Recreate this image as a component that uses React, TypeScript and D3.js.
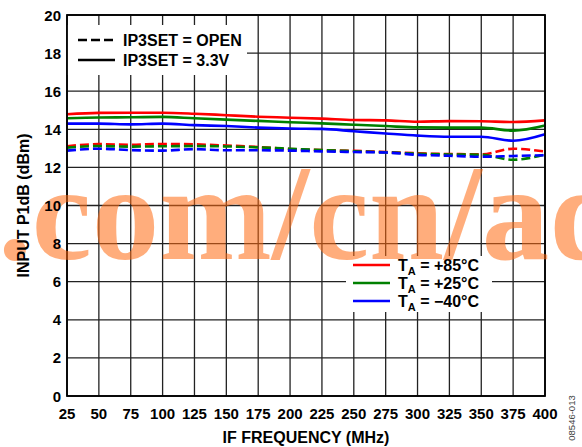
import React from 'react';
import * as d3 from 'd3';

const freqs = [25, 50, 75, 100, 125, 150, 175, 200, 225, 250, 275, 300, 325, 350, 375, 400];

const solid85 = [14.79, 14.86, 14.87, 14.87, 14.82, 14.74, 14.66, 14.61, 14.56, 14.49, 14.47, 14.40, 14.43, 14.42, 14.38, 14.47];
const solid25 = [14.58, 14.62, 14.63, 14.65, 14.58, 14.51, 14.44, 14.37, 14.31, 14.24, 14.17, 14.10, 14.09, 14.09, 13.93, 14.20];
const solidM40 = [14.30, 14.30, 14.26, 14.30, 14.22, 14.17, 14.09, 14.04, 14.02, 13.90, 13.78, 13.67, 13.61, 13.61, 13.40, 13.74];

const open85 = [13.11, 13.22, 13.19, 13.23, 13.21, 13.15, 13.07, 12.96, 12.91, 12.87, 12.81, 12.74, 12.70, 12.69, 12.98, 12.83];
const open25 = [13.04, 13.12, 13.09, 13.11, 13.12, 13.10, 13.05, 12.98, 12.91, 12.85, 12.79, 12.72, 12.68, 12.66, 12.40, 12.68];
const openM40 = [12.88, 12.98, 12.91, 12.88, 12.96, 12.90, 12.90, 12.88, 12.84, 12.81, 12.78, 12.66, 12.61, 12.56, 12.60, 12.64];

const xTicks = d3.range(25, 401, 25);
const yTicks = d3.range(0, 21, 2);

const tempLabels = ['+85°C', '+25°C', '\u221240°C'];
const tempColors = ['#ff0000', '#008000', '#0000ff'];
const modeLabels = ['IP3SET = OPEN', 'IP3SET = 3.3V'];

const series = [
  { values: open85, color: tempColors[0], dashed: true },
  { values: open25, color: tempColors[1], dashed: true },
  { values: openM40, color: tempColors[2], dashed: true },
  { values: solid85, color: tempColors[0], dashed: false },
  { values: solid25, color: tempColors[1], dashed: false },
  { values: solidM40, color: tempColors[2], dashed: false },
];

export default function App() {
  const W = 582;
  const H = 447;
  const x = d3.scaleLinear().domain([25, 400]).range([67, 545]);
  const y = d3.scaleLinear().domain([0, 20]).range([396, 15]);
  const line = d3
    .line<number>()
    .x((_, i) => x(freqs[i]))
    .y((d) => y(d))
    .curve(d3.curveMonotoneX);
  const font = 'Liberation Sans, Arial, sans-serif';

  return (
    <svg
      width={W}
      height={H}
      style={{ position: 'absolute', left: 0, top: 0, background: '#fff' }}
      fontFamily={font}
    >
      <rect x={0} y={0} width={W} height={H} fill="#fff" />
      {/* grid */}
      {xTicks.map((t) => (
        <line key={'gx' + t} x1={x(t)} x2={x(t)} y1={y(20)} y2={y(0)} stroke="#222" strokeWidth={1.3} />
      ))}
      {yTicks.map((t) => (
        <line key={'gy' + t} x1={x(25)} x2={x(400)} y1={y(t)} y2={y(t)} stroke="#222" strokeWidth={1.3} />
      ))}
      {/* legend backgrounds */}
      <rect x={x(25)} y={25} width={180} height={50} fill="#fff" />
      <rect x={346} y={256} width={146} height={56} fill="#fff" />
      {/* data */}
      {series.map((s, i) => (
        <path
          key={'s' + i}
          d={line(s.values) || ''}
          fill="none"
          stroke={s.color}
          strokeWidth={2.6}
          strokeDasharray={s.dashed ? '9,4' : undefined}
        />
      ))}
      {/* frame */}
      <rect x={x(25)} y={y(20)} width={x(400) - x(25)} height={y(0) - y(20)} fill="none" stroke="#000" strokeWidth={1.8} />
      {/* watermark */}
      <text
        x={-2}
        y={259}
        fontFamily="Liberation Serif, Times New Roman, serif"
        fontWeight="bold"
        fontSize={135}
        fill="#ff6a10"
        fillOpacity={0.55}
      >
        .com/cn/ad
      </text>
      {/* top legend */}
      {modeLabels.map((lbl, i) => (
        <g key={'ml' + i}>
          <line
            x1={78}
            x2={115}
            y1={40 + i * 20}
            y2={40 + i * 20}
            stroke="#000"
            strokeWidth={2.6}
            strokeDasharray={i === 0 ? '9,4' : undefined}
          />
          <text x={123} y={46 + i * 20} fontSize={16} fontWeight="bold" fill="#000">
            {lbl}
          </text>
        </g>
      ))}
      {/* bottom-right legend */}
      {tempLabels.map((lbl, i) => (
        <g key={'tl' + i}>
          <line x1={353} x2={390} y1={265 + i * 18} y2={265 + i * 18} stroke={tempColors[i]} strokeWidth={2.6} />
          <text x={398} y={271 + i * 18} fontSize={16} fontWeight="bold" fill="#000">
            T<tspan fontSize={11} dy={4}>A</tspan>
            <tspan dy={-4}>{' = ' + lbl}</tspan>
          </text>
        </g>
      ))}
      {/* y tick labels */}
      {yTicks.map((t) => (
        <text key={'yl' + t} x={61} y={y(t) + 5.5} textAnchor="end" fontSize={15} fontWeight="bold" fill="#000">
          {t}
        </text>
      ))}
      {/* x tick labels */}
      {xTicks.map((t) => (
        <text key={'xl' + t} x={x(t)} y={419} textAnchor="middle" fontSize={15} fontWeight="bold" fill="#000">
          {t}
        </text>
      ))}
      {/* axis titles */}
      <text x={306} y={443} textAnchor="middle" fontSize={16} fontWeight="bold" fill="#000">
        IF FREQUENCY (MHz)
      </text>
      <text
        transform={`translate(29, ${(y(20) + y(0)) / 2}) rotate(-90)`}
        textAnchor="middle"
        fontSize={16}
        fontWeight="bold"
        fill="#000"
      >
        INPUT P1dB (dBm)
      </text>
      <text
        transform="translate(575, 418) rotate(-90)"
        textAnchor="middle"
        fontSize={9.5}
        fill="#444"
      >
        08546-013
      </text>
    </svg>
  );
}
